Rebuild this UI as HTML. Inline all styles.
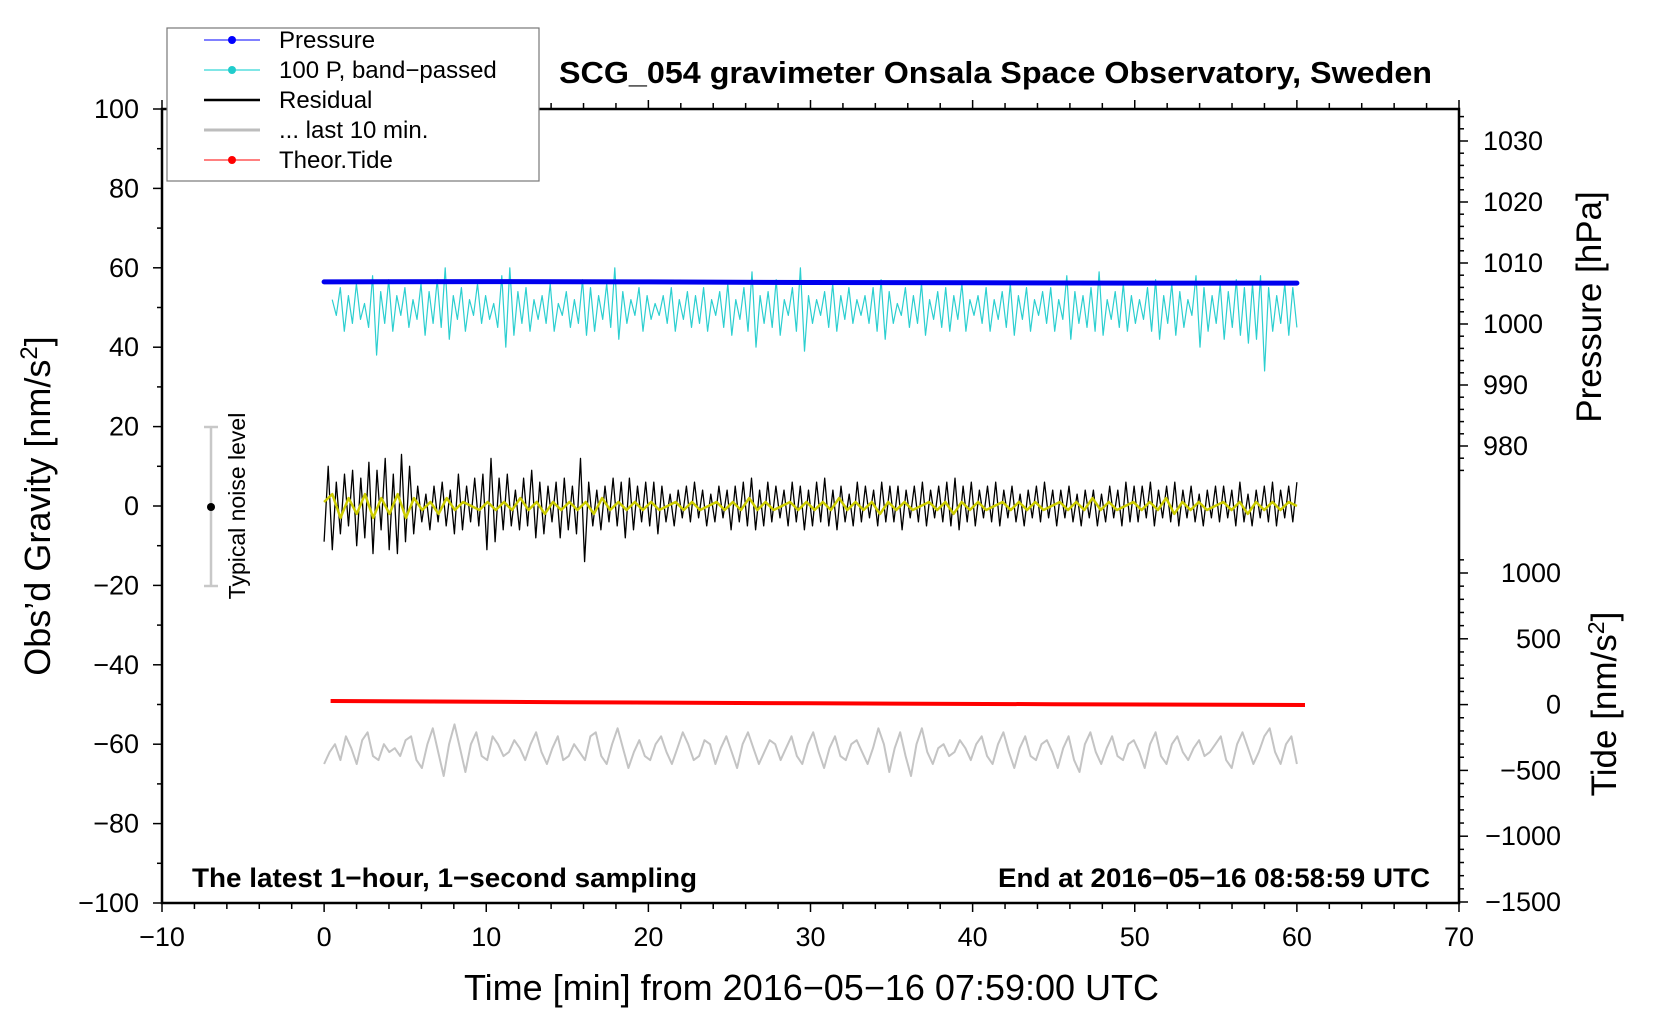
<!DOCTYPE html>
<html><head><meta charset="utf-8"><style>
html,body{margin:0;padding:0;background:#fff}
svg{display:block;font-family:"Liberation Sans",sans-serif}
</style></head><body>
<svg id="chart" width="1660" height="1020" viewBox="0 0 1660 1020" xmlns="http://www.w3.org/2000/svg">
<rect x="0" y="0" width="1660" height="1020" fill="#fff"/>
<g id="grid"></g>
<g id="series"></g>
<rect x="162" y="109" width="1297" height="794" fill="none" stroke="#000" stroke-width="2.5"/>
<g id="axes"></g>
<text x="559" y="83" font-size="31" font-weight="bold" textLength="873" lengthAdjust="spacingAndGlyphs">SCG_054 gravimeter Onsala Space Observatory, Sweden</text>
<text x="464" y="1000" font-size="36" textLength="695" lengthAdjust="spacingAndGlyphs">Time [min] from 2016−05−16 07:59:00 UTC</text>
<text transform="translate(50,506) rotate(-90)" font-size="36" text-anchor="middle">Obs’d Gravity [nm/s<tspan font-size="24" dy="-13">2</tspan><tspan dy="13">]</tspan></text>
<text transform="translate(1601,307) rotate(-90)" font-size="35" text-anchor="middle">Pressure [hPa]</text>
<text transform="translate(1616,704) rotate(-90)" font-size="35" text-anchor="middle">Tide [nm/s<tspan font-size="23" dy="-12">2</tspan><tspan dy="12">]</tspan></text>
<text x="192" y="887" font-size="27" font-weight="bold" textLength="505" lengthAdjust="spacingAndGlyphs">The latest 1−hour, 1−second sampling</text>
<text x="998" y="887" font-size="27" font-weight="bold" textLength="432" lengthAdjust="spacingAndGlyphs">End at 2016−05−16 08:58:59 UTC</text>
<g>
<line x1="211" y1="427" x2="211" y2="586" stroke="#c8c8c8" stroke-width="2.5"/>
<line x1="204" y1="427" x2="218" y2="427" stroke="#c8c8c8" stroke-width="2.5"/>
<line x1="204" y1="586" x2="218" y2="586" stroke="#c8c8c8" stroke-width="2.5"/>
<circle cx="211" cy="507" r="4" fill="#000"/>
<text transform="translate(245,506) rotate(-90)" font-size="23" text-anchor="middle">Typical noise level</text>
</g>
<g>
<rect x="167" y="28" width="372" height="153" fill="#fff" stroke="#777" stroke-width="1.2"/>
<g><line x1="204" y1="40" x2="260" y2="40" stroke="#0000ff" stroke-width="1"/><circle cx="232" cy="40" r="4" fill="#0000ff"/><text x="279" y="48" font-size="24">Pressure</text></g>
<g><line x1="204" y1="70" x2="260" y2="70" stroke="#00cccc" stroke-width="1"/><circle cx="232" cy="70" r="4" fill="#20cccc"/><text x="279" y="78" font-size="24">100 P, band−passed</text></g>
<g><line x1="204" y1="100" x2="260" y2="100" stroke="#000" stroke-width="2.5"/><text x="279" y="108" font-size="24">Residual</text></g>
<g><line x1="204" y1="130" x2="260" y2="130" stroke="#bdbdbd" stroke-width="3"/><text x="279" y="138" font-size="24">... last 10 min.</text></g>
<g><line x1="204" y1="160" x2="260" y2="160" stroke="#ff0000" stroke-width="1"/><circle cx="232" cy="160" r="4" fill="#ff0000"/><text x="279" y="168" font-size="24">Theor.Tide</text></g>
</g>
</svg>
<script>
const residual = [
-9,10,-11,6,-7,8,-5,9,-10,7,-8,11,-12,9,-6,12,-11,8,-12,13,
-9,10,-7,5,-4,3,-6,5,-4,6,-5,4,-7,8,-6,5,-4,7,-5,8,
-11,12,-9,7,-6,8,-5,4,-6,7,-5,9,-8,6,-7,5,-4,6,-8,7,
-6,5,-7,12,-14,6,-5,4,-6,5,-4,7,-5,6,-8,7,-6,5,-4,6,
-5,6,-7,5,-4,3,-5,4,-3,5,-4,6,-3,4,-5,3,-4,5,-3,4,
-6,5,-4,6,-5,7,-6,4,-5,6,-4,5,-3,4,-5,6,-4,5,-6,4,
-5,6,-4,7,-5,4,-6,5,-4,3,-5,6,-4,5,-3,4,-5,6,-4,5,
-4,5,-6,4,-3,5,-4,6,-5,4,-3,5,-4,6,-5,7,-6,5,-4,6,
-5,4,-3,5,-4,6,-5,4,-3,5,-4,3,-5,4,-3,5,-4,6,-3,4,
-5,4,-3,5,-4,3,-5,4,-3,4,-5,3,-4,5,-3,4,-5,6,-4,5,
-4,5,-3,6,-5,4,-3,5,-4,6,-5,4,-3,5,-4,3,-5,4,-3,5,
-4,5,-3,4,-5,6,-4,3,-5,4,-3,5,-4,6,-5,4,-3,5,-4,6];
const smoothed = [
1,3,-3,2,-2,3,-3,2,-2,3,-3,2,-1,1,-2,2,-1,1,0,-1,
1,-1,1,-1,2,-1,1,-2,1,-1,1,-1,1,-2,2,-1,1,-1,1,-1,
1,-1,0,1,-1,1,-1,0,1,-1,1,-1,2,-1,1,-1,0,1,-1,1,
-1,1,-1,2,-1,1,-1,1,-2,1,-1,1,-1,0,1,-1,1,-2,1,-1,
1,-1,0,1,-1,1,-1,1,-1,0,1,-1,1,-1,2,-1,1,-1,0,1,
-1,1,-1,2,-2,1,-1,1,-1,0,1,-1,1,-2,1,-1,1,-1,1,0];
const bandPassed = [
52,48,55,44,53,46,56,47,51,45,58,38,54,46,57,44,53,48,55,45,
52,47,56,43,54,46,57,45,60,42,53,47,55,44,52,48,56,46,53,47,
51,45,58,40,60,43,54,46,55,44,52,47,53,46,56,44,51,48,54,45,
52,46,57,43,55,44,53,47,56,45,60,42,54,46,52,48,55,44,53,47,
51,48,53,46,55,44,52,47,54,45,53,46,55,44,52,48,54,45,56,43,
52,47,55,44,59,40,53,46,54,45,57,43,52,48,55,44,60,39,53,46,
52,48,54,45,56,44,53,47,55,46,52,48,53,46,55,44,57,42,54,46,
51,48,55,45,53,46,56,43,52,47,54,45,55,44,53,47,56,44,52,48,
53,46,55,44,52,47,54,45,56,43,53,47,55,44,52,48,54,46,55,44,
52,47,58,42,54,46,53,45,55,44,59,43,52,47,54,45,56,44,53,46,
52,47,55,44,57,42,53,46,56,43,54,45,52,48,58,40,55,44,53,46,
56,42,54,45,57,43,55,41,56,42,58,34,55,44,53,46,56,43,55,45];
const last10 = [
-65,-62,-60,-64,-58,-61,-65,-59,-57,-63,-64,-60,-62,-61,-63,-59,-58,-64,-66,-60,-56,-62,-68,-60,-55,-61,-67,-60,-57,-63,
-64,-58,-60,-63,-62,-59,-61,-64,-60,-57,-62,-65,-61,-58,-64,-63,-60,-62,-64,-58,-57,-63,-65,-60,-56,-61,-66,-62,-59,-63,
-64,-60,-58,-62,-65,-61,-57,-60,-64,-63,-59,-60,-65,-61,-58,-62,-66,-60,-57,-61,-65,-62,-59,-60,-64,-61,-58,-63,-65,-60,
-57,-62,-66,-61,-58,-63,-64,-60,-59,-62,-65,-61,-56,-60,-67,-61,-57,-63,-68,-60,-56,-62,-65,-61,-60,-63,-62,-59,-61,-64,
-60,-58,-63,-65,-60,-57,-62,-66,-61,-58,-63,-64,-60,-59,-62,-66,-61,-58,-64,-67,-60,-57,-62,-65,-61,-58,-63,-64,-60,-59,
-62,-66,-60,-57,-63,-65,-60,-58,-62,-64,-61,-59,-63,-62,-60,-58,-64,-66,-60,-57,-61,-65,-62,-58,-56,-62,-65,-60,-58,-65];
const pressureTimes = [0,10,20,30,40,50,60];
const pressureValues = [1006.9,1006.95,1006.9,1006.8,1006.75,1006.7,1006.7];
const tideTimes = [0.4,15,30,45,60.5];
const tideValues = [27,18,10,3,-3];
const xTicks = [-10,0,10,20,30,40,50,60,70];
const yTicks = [-100,-80,-60,-40,-20,0,20,40,60,80,100];
const pressureTicks = [980,990,1000,1010,1020,1030];
const tideTicks = [-1500,-1000,-500,0,500,1000];

const X0=162,X1=1459,Y0=109,Y1=903;
const xs = t => X0 + (t+10)/80*(X1-X0);
const ys = v => Y1 - (v+100)/200*(Y1-Y0);
const ps = p => 141 + (1030-p)*6.1;
const ts = v => 704.6 - v*0.1316;
const NS='http://www.w3.org/2000/svg';
function mk(tag, attrs, parent){const e=document.createElementNS(NS,tag);for(const k in attrs)e.setAttribute(k,attrs[k]);parent.appendChild(e);return e;}
const fmt = v => String(v).replace('-','−');
const axes=document.getElementById('axes'), series=document.getElementById('series');
const tk={stroke:'#000','stroke-width':1.5};
for(let t=-10;t<=70;t+=2){
  const major = (t%10===0), L = major?9:6, x=xs(t);
  mk('line',Object.assign({x1:x,y1:Y1,x2:x,y2:Y1+L},tk),axes);
  mk('line',Object.assign({x1:x,y1:Y0,x2:x,y2:Y0-L},tk),axes);
}
xTicks.forEach(t=>{const e=mk('text',{x:xs(t),y:946,'font-size':27,'text-anchor':'middle'},axes);e.textContent=fmt(t);

});
for(let v=-100;v<=100;v+=10){const L=(v%20===0)?9:5;mk('line',Object.assign({x1:X0,y1:ys(v),x2:X0-L,y2:ys(v)},tk),axes);}
yTicks.forEach(v=>{const e=mk('text',{x:139,y:ys(v)+9,'font-size':27,'text-anchor':'end'},axes);e.textContent=fmt(v);

});
for(let p=976;p<=1034;p+=2){const L=(p%10===0)?9:5;mk('line',Object.assign({x1:X1,y1:ps(p),x2:X1+L,y2:ps(p)},tk),axes);}
pressureTicks.forEach(p=>{const e=mk('text',{x:1483,y:ps(p)+9,'font-size':27},axes);e.textContent=fmt(p);

});
for(let v=-1500;v<=1100;v+=100){const L=(v%500===0)?9:5;mk('line',Object.assign({x1:X1,y1:ts(v),x2:X1+L,y2:ts(v)},tk),axes);}
tideTicks.forEach(v=>{const e=mk('text',{x:1561,y:ts(v)+9,'font-size':27,'text-anchor':'end'},axes);e.textContent=fmt(v);

});
function line(pts, attrs, name){const e=mk('polyline',Object.assign({points:pts.map(p=>p[0].toFixed(1)+','+p[1].toFixed(1)).join(' '),fill:'none','stroke-linejoin':'round'},attrs),series);


return e;}
line(last10.map((v,i)=>[xs(i*60/(last10.length-1)),ys(v)]),{stroke:'#c4c4c4','stroke-width':2},'last-10-min-line');
line(bandPassed.map((v,i)=>[xs(0.5+i*59.5/(bandPassed.length-1)),ys(v)]),{stroke:'#2ccfd0','stroke-width':1.2},'band-passed-pressure-line');
line(pressureTimes.map((t,i)=>[xs(t),ps(pressureValues[i])]),{stroke:'#0000ee','stroke-width':5,'stroke-linecap':'round'},'pressure-line');
line(residual.map((v,i)=>[xs(i*60/(residual.length-1)),ys(v)]),{stroke:'#000','stroke-width':1.3},'residual-line');
line(smoothed.map((v,i)=>[xs(i*60/(smoothed.length-1)),ys(v)]),{stroke:'#cccc00','stroke-width':2.5},'smoothed-residual-line');
line(tideTimes.map((t,i)=>[xs(t),ts(tideValues[i])]),{stroke:'#ff0000','stroke-width':4},'theor-tide-line');
</script>
</body></html>
